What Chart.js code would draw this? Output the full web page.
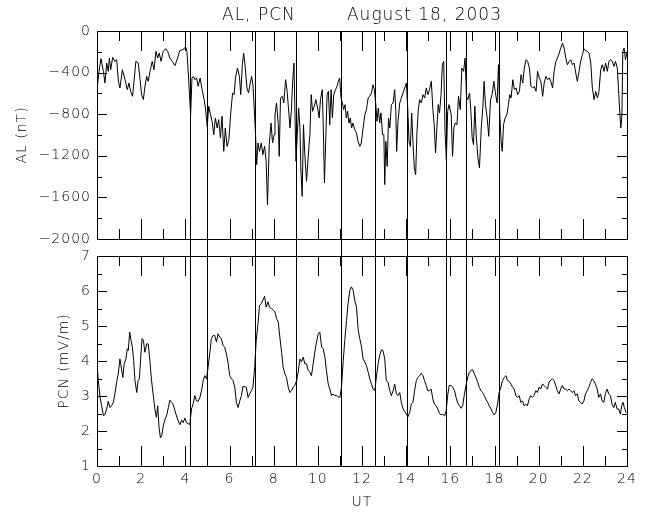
<!DOCTYPE html>
<html>
<head>
<meta charset="utf-8">
<script src="https://cdn.jsdelivr.net/npm/chart.js@4.4.0/dist/chart.umd.min.js"></script>
<style>
  html, body { margin: 0; padding: 0; background: #fff; }
  #wrap { position: relative; width: 649px; height: 519px; }
  #wrap canvas { position: absolute; left: 0; top: 0; }
</style>
</head>
<body>
<div id="wrap">
  <canvas id="alChart" width="649" height="519"></canvas>
  <canvas id="pcnChart" width="649" height="519"></canvas>
</div>
<script>
// UT hours of the vertical marker lines
var eventTimes = [4.22, 5.0, 7.14, 9.03, 11.04, 12.58, 14.04, 15.81, 16.71, 18.2];

// AL index (nT)
var alTime = [0, 0.09, 0.18, 0.29, 0.36, 0.44, 0.51, 0.56, 0.62, 0.71, 0.81, 0.89, 0.97, 1.04, 1.15, 1.27, 1.37, 1.45, 1.52, 1.61,
  1.69, 1.76, 1.87, 1.95, 2.02, 2.10, 2.17, 2.25, 2.32, 2.40, 2.50, 2.58, 2.67, 2.75, 2.82, 2.90, 3.00, 3.11, 3.20, 3.30,
  3.41, 3.53, 3.65, 3.75, 3.86, 3.95, 4.01, 4.07, 4.13, 4.19, 4.24, 4.30, 4.37, 4.43, 4.51, 4.58, 4.67, 4.76, 4.84, 4.91,
  4.99, 5.06, 5.14, 5.21, 5.29, 5.36, 5.44, 5.51, 5.59, 5.66, 5.74, 5.81, 5.89, 5.97, 6.05, 6.14, 6.21, 6.27, 6.36, 6.45,
  6.51, 6.58, 6.64, 6.71, 6.79, 6.86, 6.94, 7.00, 7.06, 7.12, 7.18, 7.23, 7.29, 7.36, 7.44, 7.51, 7.59, 7.66, 7.72, 7.80,
  7.88, 7.95, 8.02, 8.06, 8.13, 8.21, 8.25, 8.31, 8.39, 8.46, 8.54, 8.61, 8.67, 8.74, 8.80, 8.86, 8.92, 8.96, 9.01, 9.07,
  9.13, 9.19, 9.23, 9.29, 9.35, 9.41, 9.49, 9.56, 9.64, 9.70, 9.76, 9.84, 9.91, 9.99, 10.06, 10.12, 10.20, 10.24, 10.30, 10.36,
  10.42, 10.48, 10.54, 10.60, 10.66, 10.72, 10.80, 10.87, 10.93, 10.99, 11.05, 11.11, 11.17, 11.23, 11.29, 11.35, 11.41, 11.47, 11.53, 11.59,
  11.67, 11.75, 11.82, 11.90, 11.97, 12.05, 12.13, 12.20, 12.28, 12.35, 12.43, 12.50, 12.56, 12.62, 12.68, 12.74, 12.80, 12.86, 12.93, 12.99,
  13.03, 13.08, 13.14, 13.20, 13.26, 13.33, 13.41, 13.48, 13.53, 13.57, 13.63, 13.71, 13.78, 13.86, 13.93, 14.01, 14.07, 14.13, 14.19, 14.25,
  14.31, 14.37, 14.43, 14.49, 14.55, 14.61, 14.69, 14.76, 14.84, 14.91, 14.99, 15.06, 15.14, 15.21, 15.27, 15.33, 15.39, 15.45, 15.51, 15.58,
  15.64, 15.70, 15.76, 15.82, 15.88, 15.94, 16.04, 16.10, 16.16, 16.22, 16.30, 16.37, 16.45, 16.52, 16.60, 16.67, 16.73, 16.79, 16.87, 16.93,
  16.99, 17.05, 17.11, 17.17, 17.25, 17.32, 17.40, 17.47, 17.53, 17.59, 17.67, 17.74, 17.82, 17.89, 17.97, 18.04, 18.12, 18.18, 18.24, 18.30,
  18.35, 18.41, 18.48, 18.56, 18.63, 18.69, 18.75, 18.83, 18.90, 18.98, 19.05, 19.13, 19.20, 19.28, 19.35, 19.43, 19.50, 19.58, 19.65, 19.73,
  19.80, 19.88, 19.95, 20.03, 20.10, 20.18, 20.25, 20.33, 20.40, 20.48, 20.55, 20.63, 20.70, 20.78, 20.85, 20.93, 21.00, 21.08, 21.15, 21.23,
  21.30, 21.38, 21.45, 21.53, 21.60, 21.68, 21.75, 21.83, 21.90, 21.98, 22.05, 22.13, 22.20, 22.28, 22.36, 22.43, 22.51, 22.58, 22.66, 22.73,
  22.81, 22.88, 22.96, 23.03, 23.11, 23.18, 23.26, 23.33, 23.41, 23.48, 23.56, 23.63, 23.68, 23.72, 23.77, 23.81, 23.87, 23.93, 23.99];
var alValue = [-564, -388, -266, -388, -500, -308, -388, -260, -372, -253, -292, -276, -484, -548, -372, -468, -564, -500, -580, -628,
  -452, -292, -308, -468, -612, -660, -532, -436, -484, -388, -292, -372, -196, -260, -212, -292, -196, -170, -196, -260,
  -292, -333, -260, -189, -180, -170, -148, -196, -388, -612, -805, -452, -436, -468, -452, -532, -452, -564, -644, -740,
  -916, -724, -805, -868, -997, -836, -932, -852, -1029, -820, -1157, -932, -1109, -1045, -805, -596, -612, -452, -356, -436,
  -612, -324, -212, -340, -548, -596, -500, -436, -516, -740, -997, -1285, -1077, -1157, -1077, -1189, -1109, -1253, -1670, -1093,
  -885, -1077, -997, -805, -692, -901, -1205, -644, -628, -692, -468, -580, -740, -932, -772, -484, -308, -740, -1253, -997,
  -740, -932, -1317, -1590, -901, -1189, -1445, -1221, -997, -612, -772, -724, -660, -740, -837, -660, -564, -869, -1461, -1029,
  -612, -580, -901, -564, -837, -612, -564, -532, -484, -452, -644, -692, -756, -708, -837, -772, -885, -837, -932, -885,
  -949, -981, -1061, -1109, -1077, -932, -805, -756, -644, -628, -596, -516, -564, -692, -869, -740, -885, -788, -997, -997,
  -1477, -1061, -1301, -837, -932, -708, -692, -564, -772, -1157, -869, -692, -644, -596, -548, -500, -740, -1061, -1109, -788,
  -1077, -1317, -1381, -965, -756, -660, -692, -612, -644, -548, -612, -564, -484, -756, -901, -1173, -932, -708, -788, -612,
  -324, -292, -965, -1237, -772, -708, -805, -1205, -932, -885, -901, -628, -756, -356, -388, -260, -628, -660, -596, -772,
  -1029, -1093, -724, -997, -1221, -1317, -932, -740, -484, -708, -837, -1013, -660, -612, -484, -596, -692, -324, -805, -1061,
  -1157, -901, -837, -805, -708, -612, -644, -468, -564, -548, -612, -580, -420, -500, -356, -276, -292, -356, -532, -548,
  -532, -580, -388, -452, -484, -628, -500, -436, -468, -452, -484, -548, -388, -292, -260, -212, -164, -116, -164, -260,
  -324, -292, -276, -324, -308, -404, -484, -388, -292, -228, -170, -189, -196, -212, -308, -548, -660, -580, -644, -580,
  -372, -324, -388, -308, -388, -292, -276, -292, -340, -292, -356, -612, -805, -932, -805, -196, -164, -276, -212];

// PCN index (mV/m)
var pcnTime = [0, 0.06, 0.14, 0.21, 0.29, 0.36, 0.44, 0.51, 0.59, 0.66, 0.74, 0.81, 0.89, 0.96, 1.04, 1.11, 1.17, 1.23, 1.31, 1.37,
  1.42, 1.48, 1.54, 1.60, 1.66, 1.72, 1.80, 1.86, 1.92, 1.98, 2.04, 2.10, 2.17, 2.25, 2.32, 2.40, 2.47, 2.55, 2.62, 2.69,
  2.75, 2.81, 2.87, 2.93, 3.00, 3.08, 3.15, 3.23, 3.30, 3.38, 3.45, 3.53, 3.60, 3.68, 3.75, 3.83, 3.90, 3.98, 4.05, 4.13,
  4.20, 4.28, 4.35, 4.43, 4.50, 4.58, 4.66, 4.73, 4.81, 4.88, 4.96, 5.03, 5.11, 5.18, 5.26, 5.33, 5.41, 5.48, 5.56, 5.63,
  5.71, 5.78, 5.86, 5.93, 6.01, 6.09, 6.16, 6.24, 6.31, 6.39, 6.46, 6.54, 6.61, 6.69, 6.76, 6.84, 6.91, 6.99, 7.06, 7.14,
  7.21, 7.29, 7.36, 7.44, 7.51, 7.59, 7.66, 7.74, 7.81, 7.89, 7.99, 8.06, 8.13, 8.21, 8.28, 8.36, 8.43, 8.51, 8.58, 8.66,
  8.73, 8.81, 8.88, 8.96, 9.04, 9.11, 9.19, 9.26, 9.34, 9.41, 9.49, 9.56, 9.64, 9.71, 9.79, 9.86, 9.94, 10.02, 10.09, 10.17,
  10.24, 10.32, 10.39, 10.47, 10.54, 10.62, 10.69, 10.77, 10.85, 10.92, 11.00, 11.07, 11.15, 11.22, 11.30, 11.37, 11.45, 11.52, 11.60, 11.67,
  11.75, 11.83, 11.90, 11.98, 12.05, 12.13, 12.20, 12.28, 12.35, 12.43, 12.50, 12.58, 12.65, 12.73, 12.80, 12.88, 12.95, 13.03, 13.10, 13.18,
  13.26, 13.33, 13.41, 13.48, 13.56, 13.63, 13.71, 13.78, 13.86, 13.93, 14.01, 14.08, 14.16, 14.23, 14.31, 14.38, 14.46, 14.53, 14.61, 14.68,
  14.76, 14.83, 14.91, 14.98, 15.06, 15.13, 15.21, 15.28, 15.36, 15.43, 15.51, 15.58, 15.66, 15.74, 15.81, 15.89, 15.95, 16.04, 16.11, 16.19,
  16.26, 16.34, 16.41, 16.49, 16.56, 16.64, 16.72, 16.79, 16.86, 16.94, 17.01, 17.09, 17.16, 17.24, 17.31, 17.39, 17.46, 17.54, 17.61, 17.69,
  17.76, 17.84, 17.91, 17.99, 18.06, 18.14, 18.21, 18.29, 18.36, 18.44, 18.52, 18.59, 18.67, 18.74, 18.82, 18.89, 18.97, 19.04, 19.12, 19.19,
  19.27, 19.34, 19.42, 19.49, 19.57, 19.64, 19.72, 19.79, 19.87, 19.94, 20.02, 20.09, 20.17, 20.25, 20.32, 20.40, 20.47, 20.55, 20.62, 20.70,
  20.77, 20.85, 20.92, 21.00, 21.07, 21.15, 21.22, 21.30, 21.37, 21.45, 21.52, 21.60, 21.67, 21.75, 21.82, 21.90, 21.97, 22.05, 22.12, 22.20,
  22.27, 22.35, 22.42, 22.50, 22.57, 22.65, 22.72, 22.80, 22.87, 22.95, 23.02, 23.10, 23.17, 23.25, 23.32, 23.40, 23.47, 23.55, 23.62, 23.70,
  23.76, 23.82, 23.88, 23.96];
var pcnValue = [3.87, 3.44, 2.96, 2.72, 2.43, 2.48, 2.63, 2.85, 2.67, 2.72, 2.82, 3.06, 3.39, 3.63, 4.06, 3.77, 3.53, 3.92, 4.06, 4.35,
  4.30, 4.83, 4.59, 4.40, 4.01, 3.44, 3.10, 3.44, 3.49, 4.11, 4.64, 4.59, 4.25, 4.49, 4.49, 3.97, 3.44, 3.01, 2.63, 2.39,
  2.72, 2.10, 1.81, 1.86, 2.15, 2.34, 2.43, 2.67, 2.88, 2.82, 2.75, 2.58, 2.43, 2.29, 2.18, 2.31, 2.24, 2.37, 2.24, 2.21,
  2.18, 2.63, 2.77, 3.01, 2.86, 2.85, 2.96, 3.15, 3.44, 3.58, 3.49, 3.82, 4.25, 4.64, 4.73, 4.73, 4.54, 4.78, 4.68, 4.64,
  4.44, 4.40, 4.20, 3.97, 3.58, 3.49, 3.44, 3.25, 2.82, 2.67, 2.85, 3.01, 3.27, 3.27, 3.25, 2.96, 3.06, 3.15, 3.25, 3.82,
  4.59, 5.07, 5.59, 5.64, 5.74, 5.85, 5.54, 5.69, 5.54, 5.50, 5.45, 5.40, 5.21, 5.11, 4.68, 4.25, 3.82, 3.63, 3.53, 3.25,
  3.10, 3.15, 3.25, 3.30, 3.44, 3.68, 4.06, 3.97, 4.11, 3.92, 3.92, 3.73, 3.68, 3.58, 3.92, 4.25, 4.54, 4.78, 4.83, 4.40,
  4.35, 4.11, 3.73, 3.34, 3.20, 3.01, 3.06, 3.01, 3.01, 2.98, 2.96, 3.25, 4.01, 4.59, 5.16, 5.64, 6.02, 6.12, 6.02, 5.74,
  5.54, 4.87, 4.64, 4.40, 4.06, 3.97, 3.87, 3.68, 3.49, 3.34, 3.20, 3.15, 3.53, 3.92, 4.16, 4.32, 4.30, 4.06, 3.44, 3.39,
  3.15, 3.01, 3.15, 3.34, 3.06, 3.01, 3.10, 2.82, 2.63, 2.56, 2.48, 2.41, 2.53, 2.77, 2.82, 3.15, 3.44, 3.53, 3.58, 3.65,
  3.58, 3.44, 3.30, 3.15, 3.15, 3.20, 2.91, 2.77, 2.72, 2.63, 2.50, 2.46, 2.48, 2.43, 2.58, 3.06, 3.30, 3.30, 3.25, 3.15,
  2.96, 2.79, 2.72, 2.65, 2.72, 3.06, 3.34, 3.53, 3.68, 3.73, 3.75, 3.63, 3.53, 3.39, 3.25, 3.15, 3.10, 3.01, 2.91, 2.82,
  2.72, 2.63, 2.53, 2.46, 2.53, 2.77, 3.10, 3.25, 3.44, 3.53, 3.58, 3.44, 3.42, 3.34, 3.25, 3.20, 3.01, 2.96, 3.01, 2.82,
  2.86, 2.72, 2.77, 2.72, 2.91, 3.01, 2.96, 3.01, 3.15, 3.10, 3.25, 3.20, 3.34, 3.30, 3.25, 3.20, 3.39, 3.46, 3.49, 3.44,
  3.30, 3.15, 3.06, 3.20, 3.30, 3.20, 3.20, 3.15, 3.20, 3.15, 3.10, 3.15, 3.01, 3.06, 2.86, 2.82, 2.77, 2.86, 3.06, 3.15,
  3.25, 3.39, 3.49, 3.44, 3.34, 3.20, 2.96, 3.06, 2.86, 2.82, 3.06, 3.20, 3.06, 3.01, 2.77, 2.67, 2.82, 2.63, 2.63, 2.48,
  2.72, 2.82, 2.67, 2.53];

var xMin = 0, xMax = 24;

Chart.defaults.font.family = 'DejaVu Sans';
Chart.defaults.font.size = 14;
Chart.defaults.font.weight = '200';
Chart.defaults.color = '#000';

function toPoints(xs, ys) {
  var pts = [];
  for (var i = 0; i < xs.length; i++) pts.push({x: xs[i], y: ys[i]});
  return pts;
}

function isMultiple(v, step) {
  return Math.abs(v / step - Math.round(v / step)) < 1e-6;
}

// box around the plot, ticks pointing inward (IDL style)
var frameTicks = {
  id: 'frameTicks',
  beforeDraw: function(chart) { chart.ctx.letterSpacing = '1px'; },
  afterDatasetsDraw: function(chart, args, opts) {
    var ctx = chart.ctx, a = chart.chartArea;
    var xs = chart.scales.x, ys = chart.scales.y;
    ctx.save();
    ctx.strokeStyle = '#000';
    ctx.lineWidth = 1;
    ctx.beginPath();
    xs.ticks.forEach(function(t) {
      var px = Math.round(xs.getPixelForValue(t.value)) + 0.5;
      var len = isMultiple(t.value, 2) ? 20 : 10;
      ctx.moveTo(px, a.top); ctx.lineTo(px, a.top + len);
      ctx.moveTo(px, a.bottom); ctx.lineTo(px, a.bottom - len);
    });
    ys.ticks.forEach(function(t) {
      var py = Math.round(ys.getPixelForValue(t.value)) + 0.5;
      var len = isMultiple(t.value, opts.yMajor) ? 10 : 5;
      ctx.moveTo(a.left, py); ctx.lineTo(a.left + len, py);
      ctx.moveTo(a.right, py); ctx.lineTo(a.right - len, py);
    });
    ctx.stroke();
    ctx.strokeRect(Math.round(a.left) + 0.5, Math.round(a.top) + 0.5,
      Math.round(a.right - a.left), Math.round(a.bottom - a.top));
    ctx.restore();
  }
};

var alChart = new Chart(document.getElementById('alChart'), {
  type: 'line',
  data: {
    datasets: [{
      data: toPoints(alTime, alValue),
      borderColor: '#000', borderWidth: 1, pointRadius: 0, tension: 0
    }]
  },
  options: {
    responsive: false, animation: false, events: [],
    layout: { padding: { left: 0, right: 22, top: 0, bottom: 280 } },
    plugins: {
      legend: { display: false },
      tooltip: { enabled: false },
      title: {
        display: true, fullSize: false, color: '#000',
        text: 'AL, PCN        August 18, 2003',
        font: { size: 17, weight: '200' },
        padding: { top: 5, bottom: 5.6 }
      },
      frameTicks: { yMajor: 400 }
    },
    scales: {
      x: { type: 'linear', min: xMin, max: xMax, display: false, ticks: { stepSize: 1 } },
      y: {
        min: -2000, max: 0,
        grid: { display: false, drawTicks: false },
        border: { display: false },
        ticks: {
          stepSize: 200, padding: 6, autoSkip: false,
          callback: function(v) { return isMultiple(v, 400) ? String(v).replace('-', '\u2212') : ''; }
        },
        title: { display: true, text: 'AL (nT)', padding: { top: 13.6, bottom: 0 } },
        afterFit: function(s) { s.width = 97; }
      }
    }
  },
  plugins: [frameTicks]
});

// vertical marker lines run through both panels
var eventLines = {
  id: 'eventLines',
  afterDatasetsDraw: function(chart) {
    var ctx = chart.ctx, a = chart.chartArea, xs = chart.scales.x;
    var top = alChart.chartArea.top;
    ctx.save();
    ctx.strokeStyle = '#000';
    ctx.lineWidth = 1;
    ctx.beginPath();
    eventTimes.forEach(function(t) {
      var px = Math.round(xs.getPixelForValue(t)) + 0.5;
      ctx.moveTo(px, top);
      ctx.lineTo(px, a.bottom);
    });
    ctx.stroke();
    ctx.restore();
  }
};

var pcnChart = new Chart(document.getElementById('pcnChart'), {
  type: 'line',
  data: {
    datasets: [{
      data: toPoints(pcnTime, pcnValue),
      borderColor: '#000', borderWidth: 1, pointRadius: 0, tension: 0
    }]
  },
  options: {
    responsive: false, animation: false, events: [],
    layout: { padding: { left: 42, right: 22, top: 256, bottom: 0 } },
    plugins: {
      legend: { display: false },
      tooltip: { enabled: false },
      frameTicks: { yMajor: 1 }
    },
    scales: {
      x: {
        type: 'linear', min: xMin, max: xMax,
        grid: { display: false, drawTicks: false },
        border: { display: false },
        ticks: {
          stepSize: 1, padding: 5, autoSkip: false, maxRotation: 0,
          callback: function(v) { return isMultiple(v, 2) ? String(v) : ''; }
        },
        title: { display: true, text: 'UT', padding: { top: 0, bottom: 8.6 } },
        afterFit: function(s) { s.height = 53; }
      },
      y: {
        min: 1, max: 7,
        grid: { display: false, drawTicks: false },
        border: { display: false },
        ticks: {
          stepSize: 0.5, padding: 6, autoSkip: false,
          callback: function(v) { return isMultiple(v, 1) ? String(v) : ''; }
        },
        title: { display: true, text: 'PCN (mV/m)', padding: { top: 13.6, bottom: 0 } },
        afterFit: function(s) { s.width = 55; }
      }
    }
  },
  plugins: [frameTicks, eventLines]
});
</script>
</body>
</html>
